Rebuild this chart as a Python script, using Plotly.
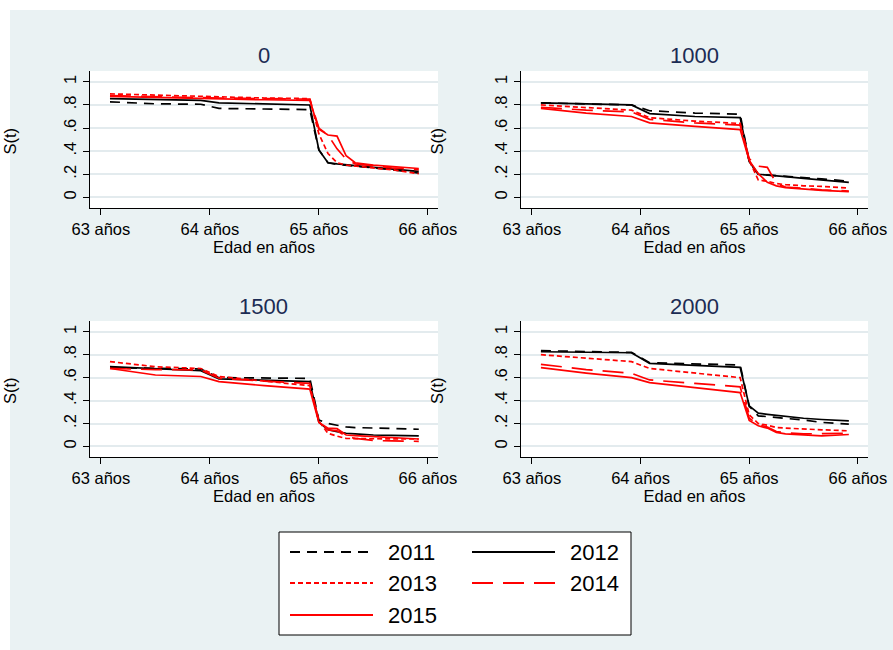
import plotly.graph_objects as go

W, H = 893, 650

# Edad en meses de cada punto de la curva (63 años y 1 mes ... 65 años y 11 meses)
edad_meses = [757, 762, 767, 769, 774, 779, 780, 781, 782, 783, 784, 786, 788, 791]

anios = ["2011", "2012", "2013", "2014", "2015"]
paneles = ["0", "1000", "1500", "2000"]

x_ticks = [63, 64, 65, 66]
x_ticktext = ["63 años", "64 años", "65 años", "66 años"]
y_ticks = [0, 0.2, 0.4, 0.6, 0.8, 1]
y_ticktext = ["0", ".2", ".4", ".6", ".8", "1"]

# Panel 0
s0_2011 = [0.827, 0.810, 0.806, 0.770, 0.765, 0.760, 0.410, 0.300, 0.285, 0.275, 0.270, 0.255, 0.240, 0.210]
s0_2012 = [0.855, 0.845, 0.840, 0.818, 0.810, 0.800, 0.410, 0.300, 0.290, 0.280, 0.275, 0.260, 0.245, 0.225]
s0_2013 = [0.896, 0.885, 0.875, 0.865, 0.860, 0.855, 0.550, 0.380, 0.300, 0.280, 0.270, 0.255, 0.240, 0.205]
s0_2014 = [0.880, 0.870, 0.865, 0.860, 0.855, 0.850, 0.600, 0.540, 0.420, 0.330, 0.290, 0.270, 0.255, 0.240]
s0_2015 = [0.875, 0.865, 0.860, 0.850, 0.845, 0.840, 0.590, 0.540, 0.530, 0.360, 0.300, 0.280, 0.270, 0.250]

# Panel 1000
s1000_2011 = [0.818, 0.810, 0.800, 0.750, 0.730, 0.720, 0.310, 0.200, 0.195, 0.190, 0.185, 0.170, 0.160, 0.140]
s1000_2012 = [0.818, 0.810, 0.800, 0.725, 0.700, 0.690, 0.310, 0.200, 0.195, 0.190, 0.180, 0.165, 0.150, 0.130]
s1000_2013 = [0.800, 0.775, 0.755, 0.690, 0.660, 0.640, 0.320, 0.150, 0.140, 0.120, 0.110, 0.100, 0.095, 0.080]
s1000_2014 = [0.780, 0.755, 0.740, 0.675, 0.645, 0.625, 0.335, 0.270, 0.260, 0.120, 0.090, 0.075, 0.065, 0.055]
s1000_2015 = [0.770, 0.730, 0.700, 0.645, 0.615, 0.587, 0.320, 0.205, 0.130, 0.100, 0.085, 0.070, 0.060, 0.050]

# Panel 1500
s1500_2011 = [0.687, 0.680, 0.675, 0.600, 0.597, 0.594, 0.230, 0.200, 0.185, 0.170, 0.165, 0.160, 0.155, 0.150]
s1500_2012 = [0.696, 0.675, 0.660, 0.590, 0.575, 0.565, 0.210, 0.145, 0.130, 0.115, 0.110, 0.100, 0.097, 0.093]
s1500_2013 = [0.740, 0.695, 0.680, 0.610, 0.570, 0.530, 0.220, 0.115, 0.090, 0.070, 0.068, 0.066, 0.065, 0.065]
s1500_2014 = [0.680, 0.670, 0.667, 0.595, 0.570, 0.550, 0.220, 0.145, 0.136, 0.087, 0.070, 0.052, 0.048, 0.045]
s1500_2015 = [0.680, 0.623, 0.610, 0.565, 0.530, 0.500, 0.210, 0.160, 0.155, 0.100, 0.095, 0.087, 0.078, 0.065]

# Panel 2000
s2000_2011 = [0.835, 0.825, 0.820, 0.730, 0.720, 0.710, 0.350, 0.267, 0.260, 0.250, 0.245, 0.230, 0.210, 0.195]
s2000_2012 = [0.826, 0.820, 0.817, 0.725, 0.705, 0.690, 0.354, 0.290, 0.280, 0.270, 0.262, 0.246, 0.235, 0.223]
s2000_2013 = [0.800, 0.770, 0.740, 0.680, 0.643, 0.600, 0.275, 0.200, 0.185, 0.165, 0.160, 0.150, 0.145, 0.136]
s2000_2014 = [0.716, 0.670, 0.638, 0.580, 0.550, 0.520, 0.246, 0.190, 0.170, 0.130, 0.120, 0.110, 0.112, 0.116]
s2000_2015 = [0.687, 0.640, 0.600, 0.556, 0.513, 0.470, 0.226, 0.180, 0.160, 0.122, 0.110, 0.100, 0.093, 0.104]

curvas = {
    "0": [s0_2011, s0_2012, s0_2013, s0_2014, s0_2015],
    "1000": [s1000_2011, s1000_2012, s1000_2013, s1000_2014, s1000_2015],
    "1500": [s1500_2011, s1500_2012, s1500_2013, s1500_2014, s1500_2015],
    "2000": [s2000_2011, s2000_2012, s2000_2013, s2000_2014, s2000_2015],
}

estilos = {
    "2011": ("#000000", "10px,7px"),
    "2012": ("#000000", "solid"),
    "2013": ("#ff0000", "5px,3px"),
    "2014": ("#ff0000", "21px,10px"),
    "2015": ("#ff0000", "solid"),
}

FONT = "Liberation Sans, Arial, sans-serif"
BG = "#eaf2f3"
GRID = "#e3ebee"
TITLE_COLOR = "#1c2c54"


def fx(px):
    return px / W


def fy(py):
    return 1 - py / H


# plot regions in pixels: (left, right, top, bottom)
regiones = [
    (90, 438, 71, 208),
    (521, 868, 71, 208),
    (90, 438, 321, 457),
    (521, 868, 321, 457),
]

edad = [m / 12 for m in edad_meses]

fig = go.Figure()
layout = dict(
    width=W, height=H,
    margin=dict(l=0, r=0, t=0, b=0, autoexpand=False),
    paper_bgcolor=BG, plot_bgcolor="white",
    showlegend=False,
    font=dict(family=FONT, size=16.5, color="black"),
)

annotations = []
shapes = [
    # white strips on top and left edge
    dict(type="rect", xref="paper", yref="paper", x0=0, x1=1, y0=fy(10), y1=1,
         fillcolor="white", line=dict(width=0), layer="below"),
    dict(type="rect", xref="paper", yref="paper", x0=0, x1=fx(10), y0=0, y1=1,
         fillcolor="white", line=dict(width=0), layer="below"),
]

for i, panel in enumerate(paneles):
    k = "" if i == 0 else str(i + 1)
    xa, ya = "x" + k, "y" + k
    l, r, t, b = regiones[i]
    layout["xaxis" + k] = dict(
        domain=[fx(l), fx(r)], anchor=ya, range=[62.9, 66.093],
        tickvals=x_ticks, ticktext=x_ticktext, ticks="outside", ticklen=6,
        tickcolor="black", showline=True, linecolor="black", linewidth=1,
        showgrid=False, zeroline=False, automargin=False,
        tickfont=dict(family=FONT, size=16.5, color="black"),
        title=dict(text="Edad en años", standoff=0,
                   font=dict(family=FONT, size=16.5, color="black")),
    )
    layout["yaxis" + k] = dict(
        domain=[fy(b), fy(t)], anchor=xa, range=[-0.092, 1.094],
        tickvals=y_ticks, ticktext=y_ticktext, tickangle=-90, ticks="outside",
        ticklen=6, tickcolor="black", showline=True, linecolor="black",
        linewidth=1, showgrid=True, gridcolor=GRID, gridwidth=1.5,
        zeroline=False, automargin=False,
        tickfont=dict(family=FONT, size=16.5, color="black"),
    )
    for anio, serie in zip(anios, curvas[panel]):
        color, dash = estilos[anio]
        fig.add_trace(go.Scatter(
            x=edad, y=serie, mode="lines", name=anio, xaxis=xa, yaxis=ya,
            line=dict(color=color, dash=dash, width=1.7),
        ))
    # panel title
    annotations.append(dict(
        text=panel, xref="paper", yref="paper", x=fx((l + r) / 2 - 0.5),
        y=fy(t - 15), xanchor="center", yanchor="middle", showarrow=False,
        font=dict(family=FONT, size=22, color=TITLE_COLOR),
    ))
    # y axis title
    annotations.append(dict(
        text="S(t)", xref="paper", yref="paper", x=fx(max(l - 84, 10)),
        y=fy((t + b) / 2 + 2),
        xanchor="center", yanchor="middle", textangle=-90, showarrow=False,
        font=dict(family=FONT, size=16.5, color="black"),
    ))

# legend box
shapes.append(dict(type="rect", xref="paper", yref="paper",
                   x0=fx(279), x1=fx(631), y0=fy(635), y1=fy(532),
                   fillcolor="white", line=dict(color="black", width=1)))
pos_leyenda = [(290, 552), (472, 552), (290, 583), (472, 583), (290, 615)]
for anio, (px, py) in zip(anios, pos_leyenda):
    color, dash = estilos[anio]
    shapes.append(dict(type="line", xref="paper", yref="paper",
                       x0=fx(px), x1=fx(px + 83), y0=fy(py), y1=fy(py),
                       line=dict(color=color, dash=dash, width=1.8)))
    annotations.append(dict(
        text=anio, xref="paper", yref="paper", x=fx(px + 96), y=fy(py),
        xanchor="left", yanchor="middle", showarrow=False,
        font=dict(family=FONT, size=22, color="black"),
    ))

layout["annotations"] = annotations
layout["shapes"] = shapes
fig.update_layout(**layout)
fig.write_html("out.html")
